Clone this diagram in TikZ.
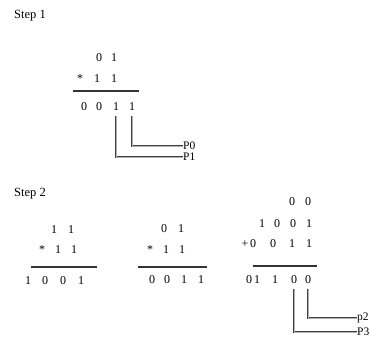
\documentclass[tikz,border=0pt]{standalone}
\usepackage{fontspec}
\setmainfont{Liberation Serif}
\begin{document}
\begin{tikzpicture}[x=1pt,y=-1pt,
  dg/.style={inner sep=0pt,font=\fontsize{12}{13}\selectfont},
  lbl/.style={inner sep=0pt,anchor=west,font=\fontsize{11.5}{12}\selectfont},
  steplbl/.style={inner sep=0pt,anchor=west,font=\fontsize{12.5}{13}\selectfont},
  rule/.style={line width=1.2pt,draw=black!80},
  conn/.style={draw=black!75,double=black!30,double distance=0.7pt,line width=0.8pt}]
\useasboundingbox (0,0) rectangle (382,342);
\fill[white] (0,0) rectangle (382,342);
\newcommand\digrow[3]{\foreach \xx/\cc [count=\ii] in {#3} \node[dg] (#1\ii) at (\xx,#2) {\cc};}
% Step 1
\node[steplbl] (step1) at (14,16) {Step 1};
\digrow{sa}{58}{99/0,114/1}
\digrow{sb}{79}{80/*,97/1,114/1}
\node[inner sep=0pt] (sl1a) at (72,91) {}; \node[inner sep=0pt] (sl1b) at (140,91) {};
\draw[rule] (sl1a) -- (sl1b);
\digrow{sc}{107}{84/0,99/0,116/1,132/1}
\node[lbl] (P0) at (183,146) {P0};
\node[lbl] (P1) at (183,157) {P1};
\draw[conn] ([yshift=-5pt]sc4.south) |- (P0.west);
\draw[conn] ([yshift=-5pt]sc3.south) |- (P1.west);
% Step 2
\node[steplbl] (step2) at (14,194) {Step 2};
\digrow{la}{230}{54/1,71/1}
\digrow{lb}{250}{42/*,58/1,74/1}
\node[inner sep=0pt] (ll1a) at (30,267) {}; \node[inner sep=0pt] (ll1b) at (98,267) {};
\draw[rule] (ll1a) -- (ll1b);
\digrow{lc}{281}{28/1,45/0,63/0,81/1}
\digrow{ma}{229}{164/0,181/1}
\digrow{mb}{250}{150/*,166/1,182/1}
\node[inner sep=0pt] (ml1a) at (137,267) {}; \node[inner sep=0pt] (ml1b) at (208,267) {};
\draw[rule] (ml1a) -- (ml1b);
\digrow{mc}{280}{152/0,167/0,184/1,201/1}
\digrow{ra}{202}{292/0,308/0}
\digrow{rb}{224}{262/1,277/0,293/0,309/1}
\digrow{rc}{244}{245/+,253/0,273/0,292/1,309/1}
\node[inner sep=0pt] (rl1a) at (252,266) {}; \node[inner sep=0pt] (rl1b) at (318,266) {};
\draw[rule] (rl1a) -- (rl1b);
\digrow{rd}{280}{249/0,257/1,275/1,294/0,308/0}
\node[lbl] (p2) at (357,318) {p2};
\node[lbl] (P3) at (357,332) {P3};
\draw[conn] ([yshift=-5pt]rd5.south) |- (p2.west);
\draw[conn] ([yshift=-5pt]rd4.south) |- (P3.west);
\end{tikzpicture}
\end{document}
